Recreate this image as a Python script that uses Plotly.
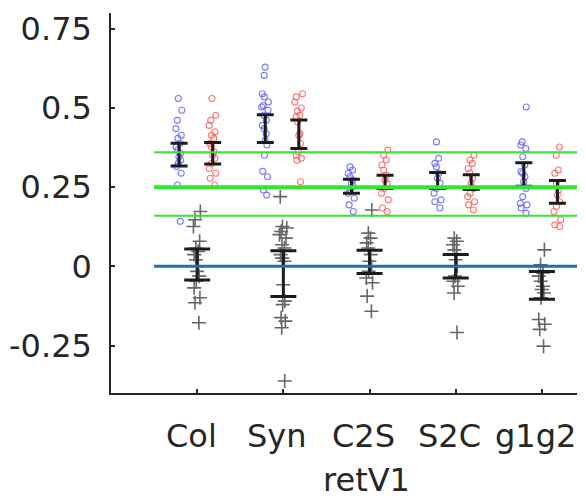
import plotly.graph_objects as go

categories = ["Col", "Syn", "C2S", "S2C", "g1g2"]
cat_pos = [1, 2, 3, 4, 5]

blue_vals = [
    [0.53, 0.493, 0.461, 0.435, 0.414, 0.404, 0.388, 0.377, 0.367, 0.356, 0.346, 0.336, 0.325, 0.315, 0.294, 0.257, 0.142],
    [0.629, 0.603, 0.545, 0.535, 0.519, 0.508, 0.503, 0.493, 0.477, 0.461, 0.445, 0.435, 0.419, 0.398, 0.383, 0.351, 0.30, 0.283, 0.241, 0.225],
    [0.314, 0.304, 0.294, 0.283, 0.273, 0.262, 0.252, 0.241, 0.231, 0.215, 0.194, 0.173],
    [0.393, 0.341, 0.325, 0.314, 0.294, 0.278, 0.262, 0.246, 0.231, 0.21, 0.204, 0.184],
    [0.503, 0.393, 0.383, 0.372, 0.346, 0.32, 0.299, 0.294, 0.283, 0.267, 0.246, 0.22, 0.199, 0.194, 0.184, 0.168],
]
red_vals = [
    [0.53, 0.477, 0.461, 0.445, 0.425, 0.414, 0.404, 0.388, 0.377, 0.362, 0.351, 0.341, 0.325, 0.309, 0.294, 0.278, 0.257],
    [0.545, 0.535, 0.519, 0.50, 0.49, 0.477, 0.472, 0.456, 0.419, 0.414, 0.388, 0.362, 0.351, 0.341, 0.335, 0.267],
    [0.367, 0.351, 0.336, 0.32, 0.304, 0.288, 0.273, 0.262, 0.246, 0.231, 0.21, 0.184, 0.173],
    [0.351, 0.336, 0.325, 0.309, 0.294, 0.278, 0.262, 0.246, 0.231, 0.22, 0.204, 0.194, 0.178],
    [0.377, 0.351, 0.304, 0.294, 0.262, 0.241, 0.225, 0.204, 0.189, 0.173, 0.147, 0.131, 0.126],
]
gray_vals = [
    [0.173, 0.147, 0.126, 0.079, 0.058, 0.047, 0.037, 0.021, 0.0, -0.016, -0.031, -0.047, -0.068, -0.099, -0.115, -0.178],
    [0.22, 0.126, 0.121, 0.11, 0.1, 0.089, 0.068, 0.058, 0.037, 0.026, 0.016, -0.058, -0.11, -0.121, -0.162, -0.173, -0.194, -0.362],
    [0.178, 0.105, 0.089, 0.074, 0.058, 0.037, 0.016, 0.0, -0.016, -0.037, -0.052, -0.094, -0.142],
    [0.089, 0.079, 0.068, 0.052, 0.037, 0.021, 0.0, -0.031, -0.047, -0.063, -0.084, -0.209],
    [0.052, 0.005, -0.021, -0.031, -0.047, -0.063, -0.073, -0.084, -0.099, -0.168, -0.183, -0.199, -0.252],
]

blue_mean = [0.353, 0.435, 0.253, 0.271, 0.290]
blue_err = [0.036, 0.044, 0.022, 0.025, 0.037]
red_mean = [0.357, 0.417, 0.267, 0.266, 0.235]
red_err = [0.034, 0.045, 0.021, 0.023, 0.036]
gray_mean = [0.006, -0.023, 0.014, 0.0, -0.060]
gray_err = [0.049, 0.072, 0.037, 0.037, 0.044]

green_lines = [0.36, 0.25, 0.16]
green_widths = [2, 4, 2]
zero_line = 0.0

y_ticks = [-0.25, 0, 0.25, 0.5, 0.75]
y_ticktext = ["-0.25", "0", "0.25", "0.5", "0.75"]
x_title = "retV1"

BLUE_OFF, RED_OFF = -0.21, 0.18
TXT = "#262626"
FONT = "DejaVu Sans"
FS = 32

fig = go.Figure()


def add_points(vals, pos, color, symbol, size, lw, width):
    fig.add_trace(go.Box(
        x=[pos] * len(vals), y=vals,
        boxpoints="all", jitter=1, pointpos=0, width=width,
        fillcolor="rgba(0,0,0,0)",
        line=dict(width=0, color="rgba(0,0,0,0)"),
        whiskerwidth=0,
        marker=dict(symbol=symbol, size=size, color=color,
                    line=dict(width=lw, color=color)),
        hoveron="points", showlegend=False,
    ))


for i, p in enumerate(cat_pos):
    add_points(blue_vals[i], p + BLUE_OFF, "rgba(100,100,255,0.85)", "circle-open", 6, 1.1, 0.1)
    add_points(red_vals[i], p + RED_OFF, "rgba(255,95,95,0.85)", "circle-open", 6, 1.1, 0.1)
    add_points(gray_vals[i], p, "#666666", "cross-thin", 10, 1.6, 0.1)


def add_err(xs, means, errs, cap):
    fig.add_trace(go.Scatter(
        x=xs, y=means, mode="markers",
        marker=dict(size=1, color="rgba(0,0,0,0)"),
        error_y=dict(type="data", array=errs, visible=True,
                     color="#1c1c1c", thickness=3, width=cap),
        showlegend=False, hoverinfo="skip",
    ))


add_err([p + BLUE_OFF for p in cat_pos], blue_mean, blue_err, 8.5)
add_err([p + RED_OFF for p in cat_pos], red_mean, red_err, 8.5)
add_err(cat_pos, gray_mean, gray_err, 13)

for v, w in zip(green_lines, green_widths):
    fig.add_trace(go.Scatter(x=[0.5, 5.5], y=[v, v], mode="lines",
                             line=dict(color="#2ee82e", width=w),
                             showlegend=False, hoverinfo="skip"))
fig.add_trace(go.Scatter(x=[0.5, 5.5], y=[zero_line, zero_line], mode="lines",
                         line=dict(color="#1f6fb5", width=3),
                         showlegend=False, hoverinfo="skip"))

annotations = [
    dict(text=c, x=p, xref="x", y=-0.113, yref="paper", xshift=-6,
         xanchor="center", yanchor="middle", showarrow=False,
         font=dict(family=FONT, size=FS, color=TXT))
    for c, p in zip(categories, cat_pos)
]
annotations.append(dict(text=x_title, x=0.538, y=-0.228, xref="paper", yref="paper",
                        xanchor="center", yanchor="middle", showarrow=False,
                        font=dict(family=FONT, size=FS, color=TXT)))

# page body has an 8px margin: figure is 8px smaller so it fits the 585x498 window
fig.update_layout(
    width=577, height=490,
    margin=dict(l=103, r=0, t=5, b=105),
    paper_bgcolor="white", plot_bgcolor="white",
    font=dict(family=FONT, size=FS, color=TXT),
    showlegend=False,
    annotations=annotations,
)
fig.update_xaxes(
    range=[0, 5.5], tickvals=cat_pos, showticklabels=False,
    showline=True, linecolor=TXT, linewidth=1.5, ticks="inside", ticklen=4,
    tickcolor=TXT, tickwidth=1.5, showgrid=False, zeroline=False, mirror=False,
    automargin=False,
)
fig.update_yaxes(
    range=[-0.4, 0.8], tickvals=y_ticks, ticktext=y_ticktext,
    showline=True, linecolor=TXT, linewidth=1.5, ticks="inside", ticklen=4,
    tickcolor=TXT, tickwidth=1.5, showgrid=False, zeroline=False, mirror=False,
    ticklabelstandoff=11, automargin=False,
)

fig.write_html("out.html")
